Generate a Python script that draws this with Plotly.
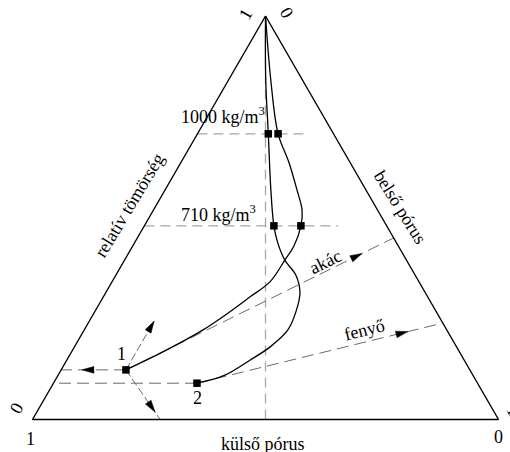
import math
import plotly.graph_objects as go

W, H = 510, 452

# ---------------- data (ternary fractions) ----------------
# relatív tömörség (top corner), külső pórus (bottom-left), belső pórus (bottom-right)
akac_rel   = [0.123, 0.170, 0.222, 0.264, 0.304, 0.341, 0.395, 0.430, 0.480, 0.519, 0.569, 0.638, 0.708, 0.834, 1.000]
akac_kulso = [0.738, 0.631, 0.523, 0.448, 0.381, 0.320, 0.261, 0.224, 0.184, 0.162, 0.148, 0.131, 0.119, 0.071, 0.000]
akac_belso = [0.139, 0.199, 0.255, 0.288, 0.315, 0.339, 0.344, 0.346, 0.336, 0.319, 0.283, 0.231, 0.173, 0.095, 0.000]

fenyo_rel   = [0.090, 0.110, 0.147, 0.180, 0.222, 0.266, 0.314, 0.358, 0.395, 0.437, 0.480, 0.569, 0.708, 0.841, 1.000]
fenyo_kulso = [0.602, 0.532, 0.460, 0.400, 0.341, 0.302, 0.269, 0.256, 0.261, 0.255, 0.242, 0.204, 0.140, 0.079, 0.000]
fenyo_belso = [0.308, 0.358, 0.393, 0.420, 0.437, 0.432, 0.417, 0.386, 0.344, 0.308, 0.278, 0.227, 0.152, 0.080, 0.000]

# marked states (squares): start point, 710 kg/m3, 1000 kg/m3
akac_mark_rel   = [0.123, 0.480, 0.708]
akac_mark_kulso = [0.738, 0.184, 0.119]
akac_mark_belso = [0.139, 0.336, 0.173]
fenyo_mark_rel   = [0.090, 0.480, 0.708]
fenyo_mark_kulso = [0.602, 0.242, 0.140]
fenyo_mark_belso = [0.308, 0.278, 0.152]

# density reference levels
density_labels = ["1000 kg/m<sup>3</sup>", "710 kg/m<sup>3</sup>"]
density_rel = [0.708, 0.480]
density_belso_end = [0.239, 0.416]

# symmetric line (külső = belső)
sym_rel = [0.0, 0.85]

# reading lines from the starting points
p1_up_rel = 0.244          # up-right arrow end (constant belső)
p1_down_end = [0.000, 0.726, 0.274]
akac_dir_end = [0.450, 0.000, 0.550]
fenyo_dir_end = [0.239, 0.000, 0.761]

corner_rel   = [1, 0, 0, 1]
corner_kulso = [0, 1, 0, 0]
corner_belso = [0, 0, 1, 0]

# ---------------- layout constants ----------------
SX, SY = 466.0, 403.5        # px per unit
X0_PX, BASE_PX = 32.5, 419.5
FONT = dict(family="Liberation Serif, Times New Roman, serif", size=18, color="black")


def to_xy(rel, kulso, belso):
    s = rel + kulso + belso
    a, c = rel / s, belso / s
    return c + a / 2.0, a


def series_xy(rels, kulsos, belsos):
    pts = [to_xy(r, k, b) for r, k, b in zip(rels, kulsos, belsos)]
    return [p[0] for p in pts], [p[1] for p in pts]


fig = go.Figure()


def add_line(xs, ys, color, width, dash=None, shape="linear"):
    fig.add_trace(go.Scatter(x=xs, y=ys, mode="lines",
                             line=dict(color=color, width=width, dash=dash, shape=shape),
                             hoverinfo="skip", showlegend=False))


GUIDE = "#a8a8a8"
READ = "#6a6a6a"

# guide lines
gx, gy = [], []
for r, be in zip(density_rel, density_belso_end):
    xa, ya = to_xy(r, 1 - r, 0)
    xb, yb = to_xy(r, 1 - r - be, be)
    gx += [xa, xb, None]
    gy += [ya, yb, None]
sx, sy = series_xy(sym_rel, [(1 - r) / 2 for r in sym_rel], [(1 - r) / 2 for r in sym_rel])
gx += sx
gy += sy
add_line(gx, gy, GUIDE, 1.3, dash="10px,6px")

# reading lines
P1 = to_xy(akac_mark_rel[0], akac_mark_kulso[0], akac_mark_belso[0])
P2 = to_xy(fenyo_mark_rel[0], fenyo_mark_kulso[0], fenyo_mark_belso[0])
P1_left = to_xy(akac_mark_rel[0], 1 - akac_mark_rel[0], 0)
P2_left = to_xy(fenyo_mark_rel[0], 1 - fenyo_mark_rel[0], 0)
P1_up = to_xy(p1_up_rel, 1 - p1_up_rel - akac_mark_belso[0], akac_mark_belso[0])
P1_down = to_xy(*p1_down_end)
A_end = to_xy(*akac_dir_end)
F_end = to_xy(*fenyo_dir_end)

rx, ry = [], []
for a, b in [(P1, P1_left), (P2, P2_left), (P1, A_end), (P2, F_end)]:
    rx += [a[0], b[0], None]
    ry += [a[1], b[1], None]
add_line(rx, ry, READ, 1.0, dash="12px,6px")
rx, ry = [], []
for a, b in [(P1, P1_up), (P1, P1_down)]:
    rx += [a[0], b[0], None]
    ry += [a[1], b[1], None]
add_line(rx, ry, READ, 1.0, dash="8px,3px")

# triangle frame
tx, ty = series_xy(corner_rel, corner_kulso, corner_belso)
add_line(tx, ty, "black", 1.4)

# curves
ax_, ay_ = series_xy(akac_rel, akac_kulso, akac_belso)
add_line(ax_, ay_, "black", 1.3, shape="spline")
fx_, fy_ = series_xy(fenyo_rel, fenyo_kulso, fenyo_belso)
add_line(fx_, fy_, "black", 1.3, shape="spline")

# squares
mx1, my1 = series_xy(akac_mark_rel, akac_mark_kulso, akac_mark_belso)
mx2, my2 = series_xy(fenyo_mark_rel, fenyo_mark_kulso, fenyo_mark_belso)
fig.add_trace(go.Scatter(x=mx1 + mx2, y=my1 + my2, mode="markers",
                         marker=dict(symbol="square", size=7.5, color="black"),
                         hoverinfo="skip", showlegend=False))


# arrowheads
def arrow_poly(p_from, p_to, frac, L=12.0, hw=3.4):
    x0, y0 = p_from
    x1, y1 = p_to
    tipx, tipy = (x0 + frac * (x1 - x0)) * SX, (y0 + frac * (y1 - y0)) * SY
    dx, dy = (x1 - x0) * SX, (y1 - y0) * SY
    n = math.hypot(dx, dy)
    ux, uy = dx / n, dy / n
    bx, by = tipx - L * ux, tipy - L * uy
    nx, ny = -uy, ux
    pts = [(tipx, tipy), (bx + hw * nx, by + hw * ny), (bx - hw * nx, by - hw * ny), (tipx, tipy)]
    return [p[0] / SX for p in pts], [p[1] / SY for p in pts]


hx, hy = [], []
for a, b, f in [(P1, P1_left, 0.68), (P1, P1_up, 1.0), (P1, P1_down, 0.85),
                (P1, A_end, 0.882), (P2, F_end, 0.858)]:
    xs, ys = arrow_poly(a, b, f)
    hx += xs + [None]
    hy += ys + [None]
fig.add_trace(go.Scatter(x=hx, y=hy, mode="lines", fill="toself", fillcolor="black",
                         line=dict(color="black", width=0.5), hoverinfo="skip", showlegend=False))


# annotations (pixel positions -> paper)
def ann(text, px, py, angle=0, xanchor="center"):
    return dict(text=text, x=px / W, y=1 - py / H, xref="paper", yref="paper",
                showarrow=False, textangle=angle, xanchor=xanchor, yanchor="middle",
                font=FONT)


annotations = [
    ann(density_labels[0], 179, 116, 0, "left"),
    ann(density_labels[1], 179, 213.5, 0, "left"),
    ann("relatív tömörség", 129, 206, -59),
    ann("belső pórus", 400, 207, 58),
    ann("külső pórus", 262.5, 444),
    ann("akác", 325, 262, -26),
    ann("fenyő", 364, 330, -14),
    ann("1", 121, 353.5),
    ann("2", 197, 398),
    ann("1", 245.5, 14, -60),
    ann("0", 286, 12.5, 60),
    ann("0", 16.5, 408, -60),
    ann("1", 30, 438.5),
    ann("0", 498, 436.5),
    ann("1", 513, 410, 60),
]

fig.update_layout(
    width=W, height=H,
    margin=dict(l=0, r=0, t=0, b=0),
    paper_bgcolor="white", plot_bgcolor="white",
    showlegend=False,
    xaxis=dict(range=[-X0_PX / SX, (W - X0_PX) / SX], visible=False, fixedrange=True),
    yaxis=dict(range=[-(H - BASE_PX) / SY, BASE_PX / SY], visible=False, fixedrange=True),
    annotations=annotations,
)

fig.write_html("out.html",
               config={"displayModeBar": False},
               post_script="document.body.style.margin='0px';document.body.style.overflow='hidden';")
